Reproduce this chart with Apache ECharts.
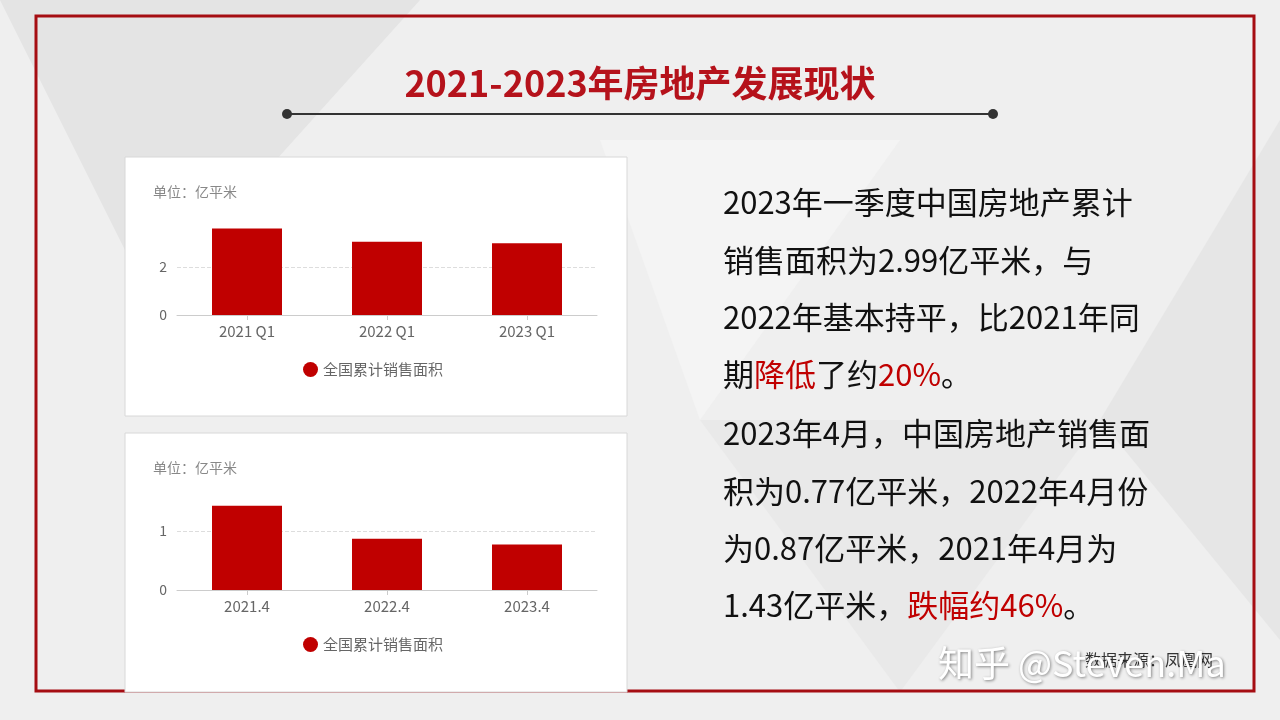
<!DOCTYPE html>
<html><head><meta charset="utf-8">
<script src="https://cdn.jsdelivr.net/npm/echarts@6/dist/echarts.min.js"></script>
<style>html,body{margin:0;padding:0;background:#efefef}#c{width:1280px;height:720px}</style>
</head><body><div id="c"></div>
<script>
const catsQ1 = ['2021 Q1','2022 Q1','2023 Q1'];
const valsQ1 = [3.6, 3.05, 2.99];
const catsApr = ['2021.4','2022.4','2023.4'];
const valsApr = [1.43, 0.87, 0.77];
const seriesName = '全国累计销售面积';
const unitLabel = '单位：亿平米';
const titleText = '2021-2023年房地产发展现状';

const F = '"Noto Sans CJK SC","Noto Sans",sans-serif';
const red = '#c00000';
const chart = echarts.init(document.getElementById('c'));
const para = [
  [['t','2023年一季度中国房地产累计']],
  [['t','销售面积为2.99亿平米，与']],
  [['t','2022年基本持平，比2021年同']],
  [['t','期'],['r','降低'],['t','了约'],['r','20%'],['t','。']],
  [['t','2023年4月，中国房地产销售面']],
  [['t','积为0.77亿平米，2022年4月份']],
  [['t','为0.87亿平米，2021年4月为']],
  [['t','1.43亿平米，'],['r','跌幅约46%'],['t','。']]
];
const lineYs = [207,265,322,379,438,496,553,610];
const textEls = para.map((segs,i)=>({
  type:'text', left:723, top:lineYs[i]-20,
  style:{text:segs.map(s=>'{'+s[0]+'|'+s[1]+'}').join(''),
    rich:{t:{fill:'#111',fontSize:31,fontFamily:F},r:{fill:red,fontSize:31,fontFamily:F}}}
}));
function yAx(gi,max,interval){
  return {type:'value',gridIndex:gi,min:0,max:max,interval:interval,
    axisLine:{show:false},axisTick:{show:false},
    axisLabel:{color:'#666',fontSize:14,fontFamily:F,margin:10,showMaxLabel:false},
    splitLine:{showMaxLine:false,lineStyle:{type:'dashed',color:'#ddd'}}};
}
function xAx(gi,cats){
  return {type:'category',gridIndex:gi,data:cats,
    axisLine:{lineStyle:{color:'#ccc'}},axisTick:{show:true,alignWithLabel:true,lineStyle:{color:'#ccc'}},
    axisLabel:{color:'#666',fontSize:15,fontFamily:F,margin:9}};
}
chart.setOption({
  animation:false,
  backgroundColor:'#efefef',
  graphic:[
    {type:'polygon',shape:{points:[[0,0],[420,0],[150,300]]},style:{fill:'#e4e4e4'},silent:true},
    {type:'polygon',shape:{points:[[1280,120],[1100,420],[1280,640]]},style:{fill:'#e6e6e6'},silent:true},
    {type:'polygon',shape:{points:[[600,140],[900,140],[700,420]]},style:{fill:'#f4f4f4'},silent:true},
    {type:'polygon',shape:{points:[[700,420],[1100,420],[900,692]]},style:{fill:'#e9e9e9'},silent:true},
    {type:'rect',shape:{x:36,y:16,width:1218,height:675},style:{fill:'none',stroke:'#a50d12',lineWidth:3}},
    {type:'text',left:'center',top:65,style:{text:titleText,fill:'#b5121b',fontSize:36,fontWeight:'bold',fontFamily:F}},
    {type:'line',shape:{x1:287,y1:114,x2:993,y2:114},style:{stroke:'#333',lineWidth:2}},
    {type:'circle',shape:{cx:287,cy:114,r:5},style:{fill:'#333'}},
    {type:'circle',shape:{cx:993,cy:114,r:5},style:{fill:'#333'}},
    {type:'rect',shape:{x:125,y:157,width:502,height:259},style:{fill:'#fff',stroke:'#d8d8d8',lineWidth:1}},
    {type:'rect',shape:{x:125,y:433,width:502,height:259},style:{fill:'#fff',stroke:'#d8d8d8',lineWidth:1}},
    {type:'text',left:153,top:185,style:{text:unitLabel,fill:'#888',fontSize:14,fontFamily:F}},
    {type:'text',left:153,top:461,style:{text:unitLabel,fill:'#888',fontSize:14,fontFamily:F}},
    ...textEls,
    {type:'text',left:1085,top:652,style:{text:'数据来源：凤凰网',fill:'#333',fontSize:16,fontFamily:F}},
    {type:'text',left:938,top:645,style:{text:'知乎 @Steven.Ma',fill:'#fff',fontSize:36,fontFamily:F,
      textShadowColor:'rgba(0,0,0,0.45)',textShadowBlur:3,textShadowOffsetX:1,textShadowOffsetY:1}}
  ],
  legend:[
    {data:[seriesName],left:298,top:357,icon:'circle',itemWidth:15,itemHeight:15,itemGap:6,
      textStyle:{color:'#666',fontSize:15,fontFamily:F}},
    {data:[seriesName],left:298,top:632,icon:'circle',itemWidth:15,itemHeight:15,itemGap:6,
      textStyle:{color:'#666',fontSize:15,fontFamily:F}}
  ],
  grid:[
    {left:177,width:420,top:315-3.7*24,height:3.7*24},
    {left:177,width:420,top:590-1.5*59,height:1.5*59}
  ],
  xAxis:[xAx(0,catsQ1),xAx(1,catsApr)],
  yAxis:[yAx(0,3.7,2),yAx(1,1.5,1)],
  series:[
    {name:seriesName,type:'bar',xAxisIndex:0,yAxisIndex:0,data:valsQ1,barWidth:70,itemStyle:{color:red}},
    {name:seriesName,type:'bar',xAxisIndex:1,yAxisIndex:1,data:valsApr,barWidth:70,itemStyle:{color:red}}
  ]
});
</script></body></html>
